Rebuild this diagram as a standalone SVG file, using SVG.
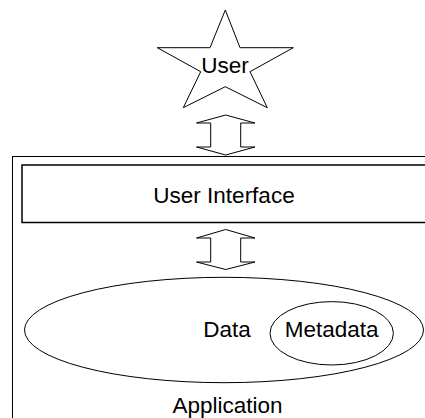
<svg xmlns="http://www.w3.org/2000/svg" width="425" height="418" viewBox="0 0 425 418">
  <style>
    .shape { fill: #ffffff; stroke: #000000; stroke-width: 1; }
    .thick { stroke-width: 1.5; }
    .label { font-family: "Liberation Sans", Arial, sans-serif; font-size: 22.5px; fill: #000000; text-anchor: middle; }
  </style>
  <rect width="425" height="418" fill="#ffffff"/>
  <g id="application">
    <rect class="shape" x="12.5" y="156.5" width="430" height="280"/>
    <text class="label" x="227.5" y="413">Application</text>
  </g>
  <g id="user">
    <polygon class="shape" points="225.3,10 240,47.7 293.3,47.7 250,71.7 267.3,107.7 225.3,86.7 183.3,107.7 200.7,71.7 157.3,47.7 210,47.7"/>
    <text class="label" x="225" y="72.5">User</text>
  </g>
  <g id="user-interface">
    <rect class="shape thick" x="22" y="165" width="420" height="57.5"/>
    <text class="label" x="224" y="203.3">User Interface</text>
  </g>
  <g id="data">
    <ellipse class="shape" cx="224" cy="330" rx="199.5" ry="52.7"/>
    <text class="label" x="227" y="336.7">Data</text>
  </g>
  <g id="metadata">
    <ellipse class="shape" cx="331.7" cy="333.3" rx="61.7" ry="31.7"/>
    <text class="label" x="331.7" y="336.7">Metadata</text>
  </g>
  <g id="connectors">
    <polygon class="shape" points="225.7,115 255,123 240.7,123 240.7,147 255,147 225.7,155 196.5,147 210.7,147 210.7,123 196.5,123"/>
    <polygon class="shape" points="225.7,229.5 255,238 240.7,238 240.7,262 255,262 225.7,269.5 196.5,262 210.7,262 210.7,238 196.5,238"/>
  </g>
</svg>
